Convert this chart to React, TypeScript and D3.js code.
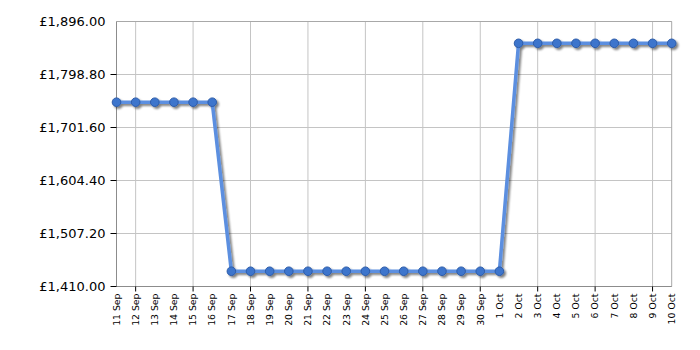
import React from "react";
import * as d3 from "d3";

const dates = [
  "11 Sep","12 Sep","13 Sep","14 Sep","15 Sep","16 Sep","17 Sep","18 Sep","19 Sep","20 Sep",
  "21 Sep","22 Sep","23 Sep","24 Sep","25 Sep","26 Sep","27 Sep","28 Sep","29 Sep","30 Sep",
  "1 Oct","2 Oct","3 Oct","4 Oct","5 Oct","6 Oct","7 Oct","8 Oct","9 Oct","10 Oct",
];
const prices = [
  1748,1748,1748,1748,1748,1748,
  1438,1438,1438,1438,1438,1438,1438,1438,1438,1438,1438,1438,1438,1438,1438,
  1856,1856,1856,1856,1856,1856,1856,1856,1856,
];
const yTicks = [1410, 1507.2, 1604.4, 1701.6, 1798.8, 1896];
const gridDates = ["12 Sep","15 Sep","18 Sep","21 Sep","24 Sep","27 Sep","30 Sep","3 Oct","6 Oct","9 Oct"];

const W = 700, H = 350;
const M = { left: 116.5, right: 28.3, top: 21.5, bottom: 63.5 };

export default function App() {
  const x = d3.scalePoint<string>().domain(dates).range([M.left, W - M.right]);
  const y = d3.scaleLinear().domain([1410, 1896]).range([H - M.bottom, M.top]);
  const fmt = (v: number) => "£" + d3.format(",.2f")(v);
  const data = dates.map((d, i) => ({ d, v: prices[i] }));
  const line = d3.line<{ d: string; v: number }>().x(p => x(p.d)!).y(p => y(p.v));
  const path = line(data)!;
  const x0 = M.left, x1 = W - M.right, yb = H - M.bottom, yt = M.top;
  return (
    <svg width={W} height={H} style={{ position: "absolute", left: 0, top: 0 }} fontFamily="DejaVu Sans">
      <defs>
        <filter id="sh" x="-10%" y="-10%" width="120%" height="120%">
          <feGaussianBlur in="SourceAlpha" stdDeviation="1" />
          <feOffset dx="1.5" dy="1.5" result="b" />
          <feComponentTransfer><feFuncA type="linear" slope="0.5" /></feComponentTransfer>
          <feMerge><feMergeNode /><feMergeNode in="SourceGraphic" /></feMerge>
        </filter>
      </defs>
      {yTicks.map(t => (
        <line key={"hg" + t} x1={x0} x2={x1} y1={y(t)} y2={y(t)} stroke="#c4c4c4" strokeWidth={1} />
      ))}
      {gridDates.map(d => (
        <line key={"vg" + d} x1={x(d)} x2={x(d)} y1={yt} y2={yb} stroke="#c4c4c4" strokeWidth={1} />
      ))}
      <line x1={x0} x2={x1} y1={yt} y2={yt} stroke="#a8a8a8" />
      <line x1={x1} x2={x1} y1={yt} y2={yb} stroke="#a8a8a8" />
      <line x1={x0} x2={x0} y1={yt} y2={yb} stroke="#8c8c8c" />
      <line x1={x0} x2={x1} y1={yb} y2={yb} stroke="#8c8c8c" />
      {yTicks.map((t, i) => (
        <g key={"yt" + t}>
          {i < yTicks.length - 1 && (
            <line x1={x0 - 6} x2={x0} y1={y(t)} y2={y(t)} stroke="#000" />
          )}
          <text x={x0 - 11} y={y(t)} dy="0.35em" textAnchor="end" fontSize={13} fill="#000">
            {fmt(t)}
          </text>
        </g>
      ))}
      {gridDates.map(d => (
        <line key={"xt" + d} x1={x(d)} x2={x(d)} y1={yb} y2={yb + 5} stroke="#000" />
      ))}
      {dates.map(d => (
        <text
          key={"xl" + d}
          transform={`translate(${x(d)},${yb + 7}) rotate(-90)`}
          dy="0.35em"
          textAnchor="end"
          fontSize={9.3}
          fill="#000"
        >
          {d}
        </text>
      ))}
      <g filter="url(#sh)">
        <path d={path} fill="none" stroke="#5b8fe0" strokeWidth={3.5} strokeLinejoin="round" />
        {data.map(p => (
          <circle key={"pt" + p.d} cx={x(p.d)} cy={y(p.v)} r={4.3} fill="#3d74cc" stroke="#2d5ca8" strokeWidth={1} />
        ))}
      </g>
    </svg>
  );
}
